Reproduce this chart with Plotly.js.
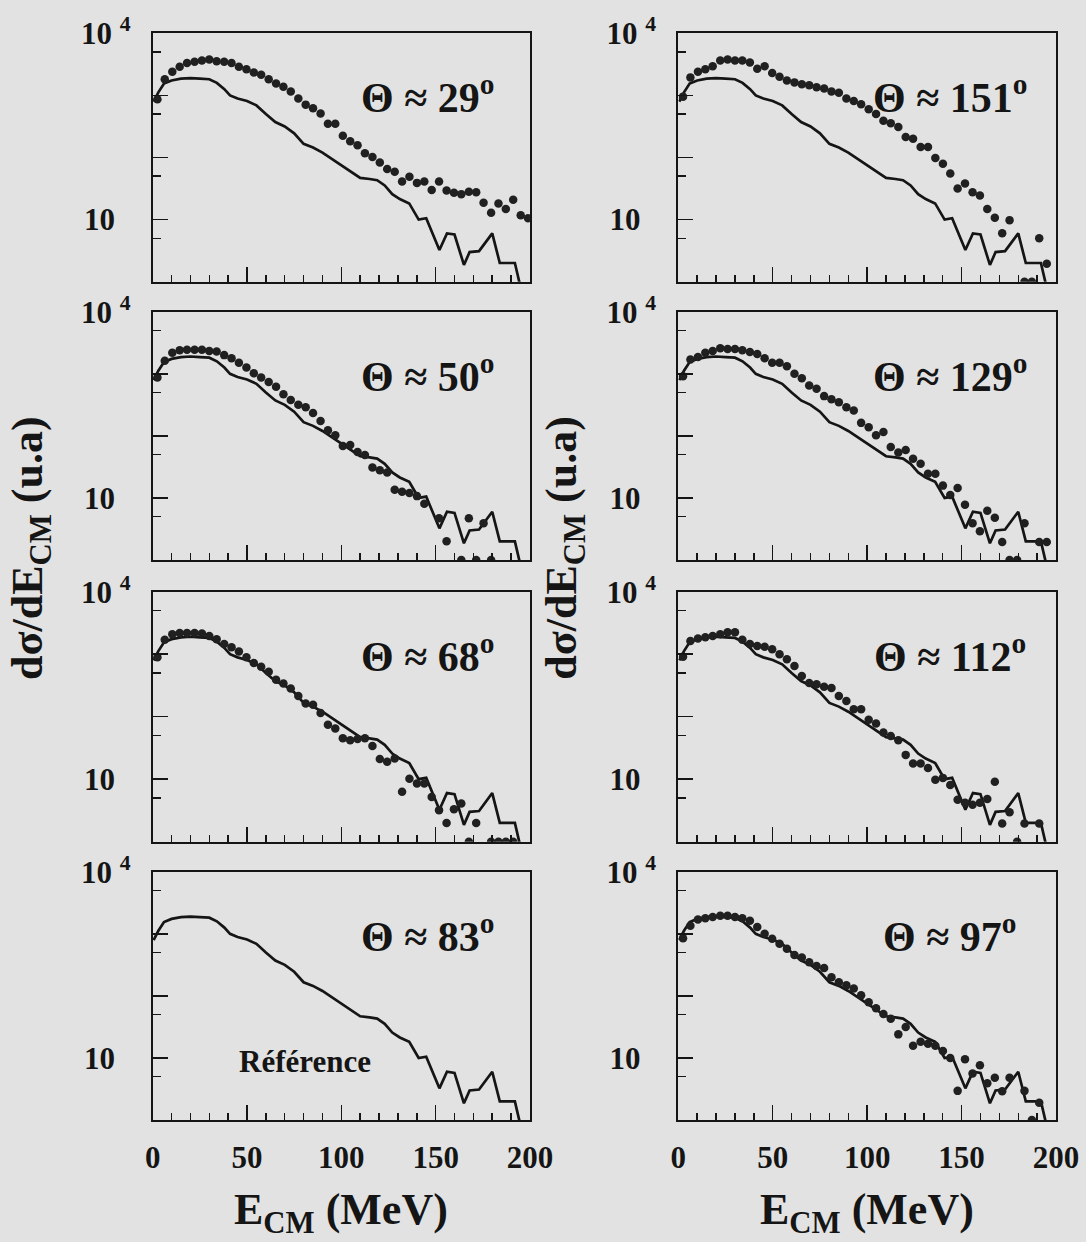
<!DOCTYPE html>
<html>
<head>
<meta charset="utf-8">
<script src="https://cdn.plot.ly/plotly-3.0.1.min.js"></script>
<style>html,body{margin:0;padding:0;background:#e2e2e2;}#chart{width:1086px;height:1242px;}</style>
</head>
<body>
<div id="chart"></div>
<script>
// Reference distribution (solid line, same in every panel)
const E_REF = [0.5, 3, 6, 10, 15, 20, 25, 30, 34, 38, 41, 45, 50, 55, 60, 65, 70, 75, 80, 85, 90, 95, 100, 105, 110, 115, 119, 123, 127, 131, 136, 141, 145, 152, 156, 160, 165, 168, 173, 180, 184, 192, 195.5];
const Y_REF = [794, 1120, 1550, 1740, 1860, 1900, 1860, 1820, 1590, 1260, 1000, 890, 810, 690, 500, 372, 316, 245, 166, 145, 120, 95, 76, 59, 47, 45, 43, 35.5, 25.7, 21.4, 18.2, 10, 10.5, 3.24, 6.0, 5.75, 1.86, 3.0, 3.1, 6.0, 2.0, 2.0, 0.7];

// Energy bins of the measured points (MeV)
const E_DATA = [2.5, 6.4, 10.4, 14.3, 18.2, 22.2, 26.1, 30.0, 33.9, 37.9, 41.8, 45.7, 49.7, 53.6, 57.5, 61.5, 65.4, 69.3, 73.2, 77.2, 81.1, 85.0, 89.0, 92.9, 96.8, 100.8, 104.7, 108.6, 112.5, 116.5, 120.4, 124.3, 128.3, 132.2, 136.1, 140.1, 144.0, 147.9, 151.8, 155.8, 159.7, 163.6, 167.6, 171.5, 175.4, 179.4, 183.3, 187.2, 191.1, 195.1, 199.0];

// Measured points per angle
const D29 = [870, 1820, 2400, 2880, 3310, 3470, 3630, 3800, 3550, 3470, 3310, 2880, 2630, 2340, 2140, 1820, 1550, 1380, 1150, 890, 710, 620, 510, 350, 350, 224, 182, 158, 117, 102, 83, 65, 59, 41, 49, 39, 41, 30, 41, 29.5, 27, 25.7, 28, 27.5, 18.6, 12.9, 18.2, 14.8, 20.9, 11.7, 10.5];
const D151 = [955, 1950, 2400, 2630, 2950, 3630, 3800, 3630, 3630, 3390, 2690, 2950, 2290, 2000, 1740, 1620, 1510, 1450, 1350, 1290, 1150, 1100, 890, 810, 720, 600, 500, 390, 355, 310, 214, 200, 148, 148, 98, 79, 55, 31.6, 38, 27.5, 24.5, 14.8, 10.7, 6.0, 9.8, null, 1.0, 1.0, 5.0, 1.95, null];
const D50 = [870, 1620, 2190, 2400, 2450, 2450, 2450, 2340, 2290, 2000, 1780, 1510, 1260, 1020, 870, 740, 617, 468, 380, 316, 288, 234, 174, 123, 102, 69, 71, 55, 49, 31, 28, 25.7, 13.5, 12.6, 12.0, 10.7, 8.1, null, 4.7, 2.0, null, 1.0, 4.7, 1.0, 3.9, 1.0, null, null, null, null, null];
const D129 = [912, 1700, 1860, 2190, 2340, 2570, 2510, 2510, 2400, 2240, 2090, 1780, 1510, 1510, 1320, 1000, 851, 646, 575, 437, 389, 347, 288, 257, 162, 138, 102, 115, 66, 54, 59, 43, 35.5, 24.5, 24.5, 15.8, 11.2, 14.5, 7.8, 3.9, 2.9, 6.2, 4.8, 1.95, 1.0, 1.0, 3.9, null, 1.95, 1.95, null];
const D68 = [890, 1700, 2090, 2190, 2190, 2190, 2140, 1950, 1740, 1450, 1290, 1100, 890, 724, 631, 525, 389, 339, 282, 214, 162, 155, 115, 74, 65, 45, 42, 44, 45, 34, 21, 19, 21.4, 6.3, 10.2, 8.5, 8.5, 5.2, 3.2, 2.0, 3.3, 4.1, 1.0, 2.0, null, 1.0, 1.0, 1.0, 1.0, null, null];
const D112 = [912, 1620, 1780, 1860, 1950, 2090, 2240, 2240, 1700, 1450, 1350, 1320, 1200, 1000, 832, 646, 447, 347, 331, 302, 288, 214, 178, 132, 132, 89, 78, 56, 49, 42, 24.5, 17.8, 17.8, 15.1, 9.8, 10.5, 8.1, 4.7, 4.2, 3.9, 4.2, 4.8, 9.1, 1.95, 2.95, 1.0, 1.95, null, 1.95, null, null];
const D97 = [851, 1350, 1700, 1780, 1860, 1950, 1950, 1860, 1780, 1620, 1290, 1000, 832, 692, 575, 457, 417, 347, 302, 282, 200, 166, 148, 132, 102, 79, 63, 51, 43, 24, 31.6, 15.8, 18.2, 17, 15.8, 12.9, 10, 2.95, 9.55, 5.6, 7.6, 3.9, 4.8, 2.9, 4.8, null, 2.95, 1.0, 1.9, null, null];

const PANEL_LABELS = ['Θ ≈ 29<sup>o</sup>', 'Θ ≈ 151<sup>o</sup>', 'Θ ≈ 50<sup>o</sup>', 'Θ ≈ 129<sup>o</sup>', 'Θ ≈ 68<sup>o</sup>', 'Θ ≈ 112<sup>o</sup>', 'Θ ≈ 83<sup>o</sup>', 'Θ ≈ 97<sup>o</sup>'];
const PANEL_DATA = [D29, D151, D50, D129, D68, D112, null, D97];

const X_TICKS = [0, 50, 100, 150, 200];
const X_TICK_TEXT = ['0', '50', '100', '150', '200'];
const Y_TICKS = [10, 100, 1000, 10000];
const Y_TICK_TEXT = ['10\u00a0\u00a0', '', '', '10 <sup>4</sup>'];
const Y_MINOR = [5, 50, 500, 5000];

const FONT = '"Liberation Serif", "Times New Roman", "DejaVu Serif", serif';
const INK = '#151515';
const TICKFONT = {family: FONT, size: 31, color: INK, weight: 700};

const colDomains = [[0.1406, 0.4880], [0.6246, 0.9724]];
const rowDomains = [[0.7732, 0.9732], [0.5491, 0.7490], [0.3223, 0.5236], [0.0982, 0.2981]];

const traces = [];
const layout = {
  width: 1086, height: 1242,
  margin: {l: 0, r: 0, t: 0, b: 0},
  paper_bgcolor: '#e2e2e2', plot_bgcolor: '#e2e2e2',
  showlegend: false,
  annotations: []
};

for (let i = 0; i < 8; i++) {
  const row = Math.floor(i / 2), col = i % 2;
  const n = i + 1;
  const xid = n === 1 ? 'x' : 'x' + n;
  const yid = n === 1 ? 'y' : 'y' + n;
  const bottom = row === 3;

  layout[n === 1 ? 'xaxis' : 'xaxis' + n] = {
    domain: colDomains[col], anchor: yid, range: [0, 200],
    showline: true, mirror: true, linecolor: INK, linewidth: 2,
    ticks: 'inside', ticklen: 15, tickwidth: 1.5, tickcolor: INK,
    tickmode: 'array', tickvals: X_TICKS, ticktext: X_TICK_TEXT,
    showticklabels: bottom, ticklabelstandoff: 9,
    tickfont: TICKFONT,
    minor: {dtick: 10, ticks: 'inside', ticklen: 7, tickwidth: 1.5, tickcolor: INK},
    showgrid: false, zeroline: false, fixedrange: true
  };
  layout[n === 1 ? 'yaxis' : 'yaxis' + n] = {
    domain: rowDomains[row], anchor: xid, type: 'log', range: [0, 4],
    showline: true, mirror: true, linecolor: INK, linewidth: 2,
    ticks: 'inside', ticklen: 15, tickwidth: 1.5, tickcolor: INK,
    tickmode: 'array', tickvals: Y_TICKS, ticktext: Y_TICK_TEXT,
    ticklabelstandoff: 14, tickfont: TICKFONT,
    minor: {tickmode: 'array', tickvals: Y_MINOR, ticks: 'inside', ticklen: 8, tickwidth: 1.5, tickcolor: INK},
    showgrid: false, zeroline: false, fixedrange: true
  };

  traces.push({
    type: 'scatter', mode: 'lines', x: E_REF, y: Y_REF,
    xaxis: xid, yaxis: yid,
    line: {color: INK, width: 2.7}, hoverinfo: 'skip'
  });
  if (PANEL_DATA[i]) {
    traces.push({
      type: 'scatter', mode: 'markers', x: E_DATA, y: PANEL_DATA[i],
      xaxis: xid, yaxis: yid,
      marker: {symbol: 'circle', size: 8.5, color: '#202020'}, hoverinfo: 'skip'
    });
  }

  layout.annotations.push({
    xref: xid + ' domain', yref: yid + ' domain',
    x: col === 0 ? 0.728 : 0.719, y: 0.752, xanchor: 'center', yanchor: 'middle',
    text: PANEL_LABELS[i], showarrow: false,
    font: {family: FONT, size: 42, color: INK, weight: 700}
  });
}

layout.annotations.push({
  xref: 'x7 domain', yref: 'y7 domain', x: 0.404, y: 0.237,
  xanchor: 'center', yanchor: 'middle', text: 'Référence', showarrow: false,
  font: {family: FONT, size: 31, color: INK, weight: 700}
});

const YTITLE = 'dσ/dE<sub>CM</sub> (u.a)';
[0.0285, 0.520].forEach(px => layout.annotations.push({
  xref: 'paper', yref: 'paper', x: px, y: 0.5588, xanchor: 'center', yanchor: 'middle',
  textangle: -90, text: YTITLE, showarrow: false,
  font: {family: FONT, size: 44, color: INK, weight: 700}
}));
const XTITLE = 'E<sub>CM</sub> (MeV)';
[0.314, 0.7984].forEach(px => layout.annotations.push({
  xref: 'paper', yref: 'paper', x: px, y: 0.024, xanchor: 'center', yanchor: 'middle',
  text: XTITLE, showarrow: false,
  font: {family: FONT, size: 44, color: INK, weight: 700}
}));

Plotly.newPlot('chart', traces, layout, {staticPlot: true, displayModeBar: false});
</script>
</body>
</html>
